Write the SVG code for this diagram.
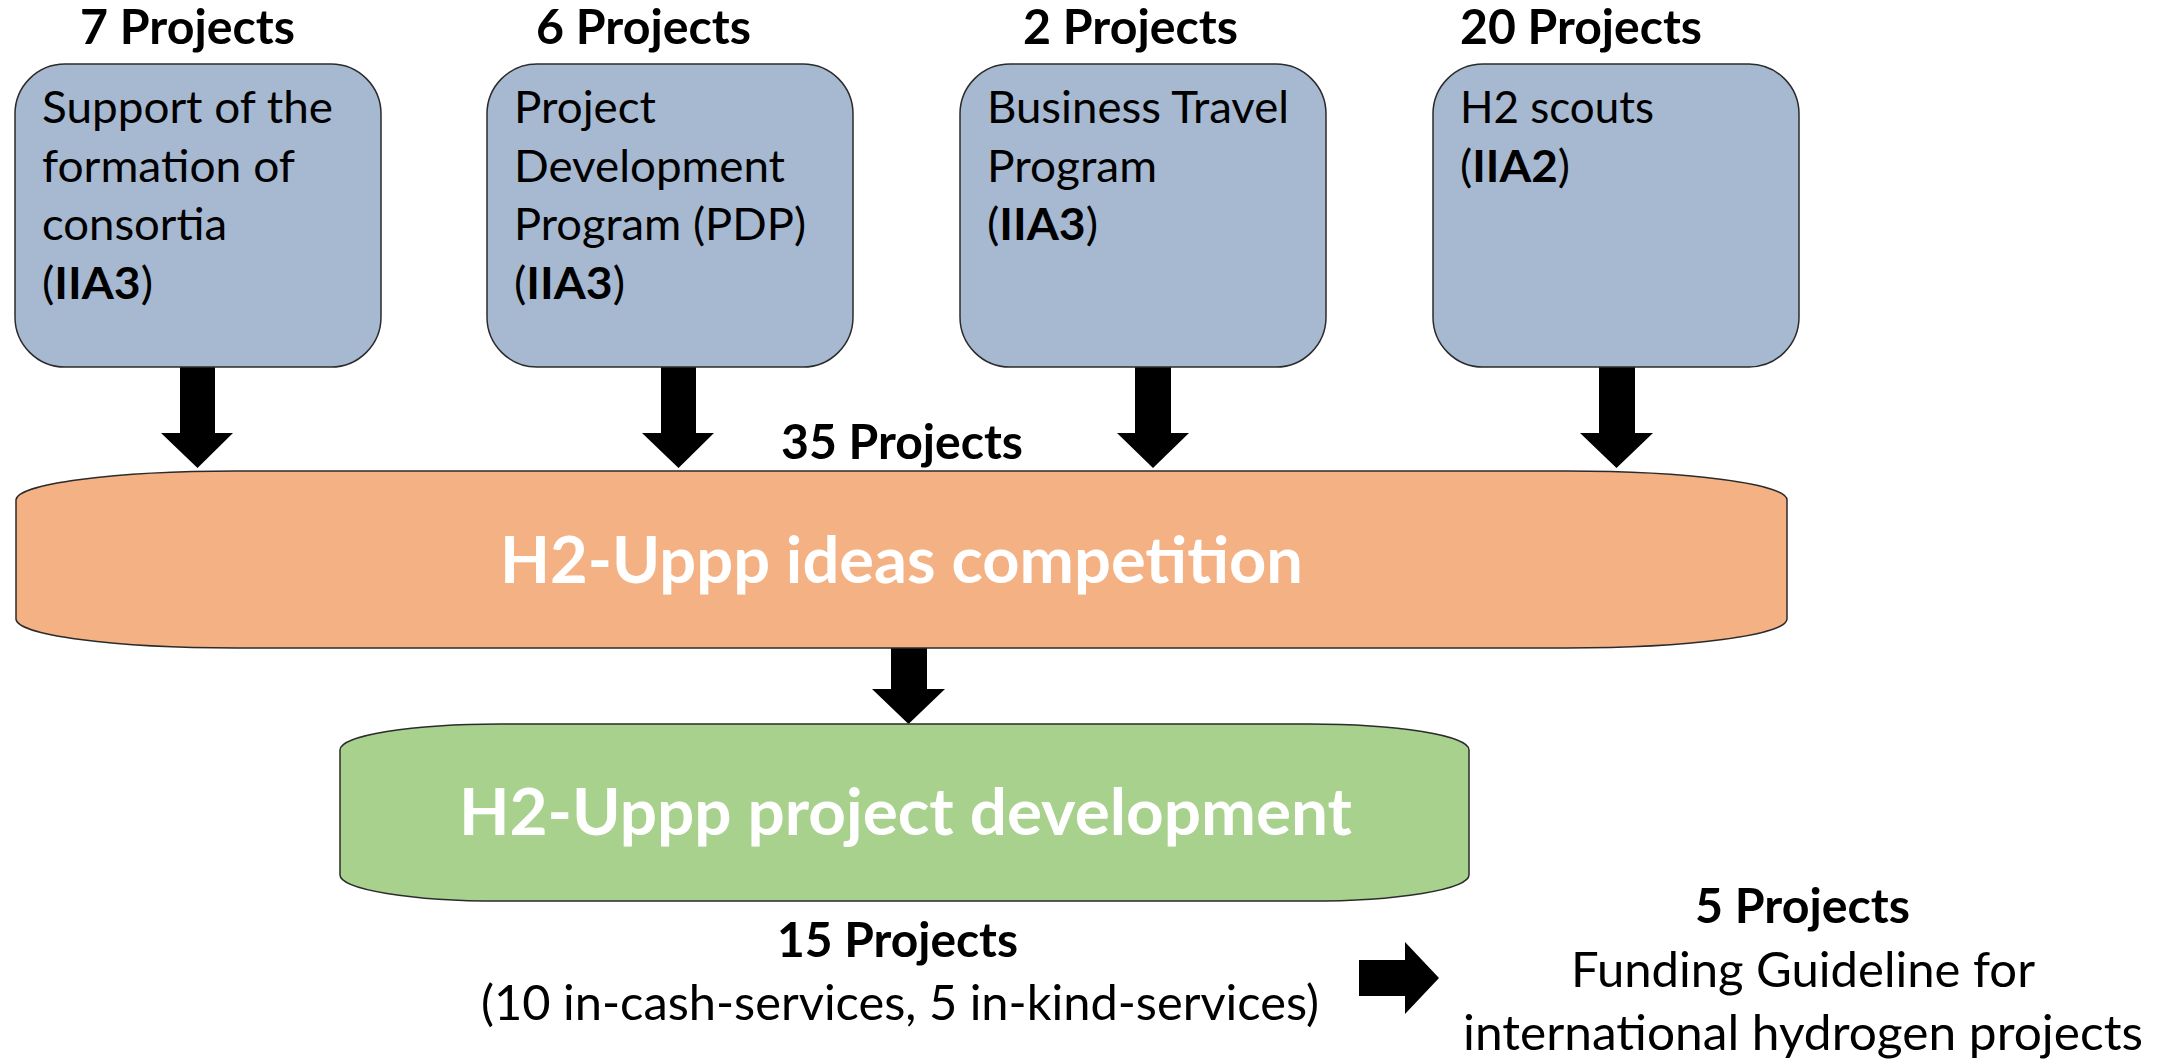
<svg xmlns="http://www.w3.org/2000/svg" width="2174" height="1064" viewBox="0 0 2174 1064">
<style>
  text { font-family: Lato, "Open Sans", "Liberation Sans", sans-serif; fill: #000; }
  .lbl { font-size: 48.5px; font-weight: bold; }
  .body { font-size: 44px; }
  .b { font-weight: bold; }
  .big { font-size: 65px; font-weight: bold; fill: #fff; }
  .bot { font-size: 48.5px; }
  .box { fill: #A6B9D0; stroke: #2b2b2b; stroke-width: 1.5; }
  .arr { fill: #000; stroke: none; }
</style>
<rect width="2174" height="1064" fill="#fff"/>

<g id="connectors">
  <path class="arr" d="M180,367 H215 V433 H233 L197.5,468 L161,433 H180 Z"/>
  <path class="arr" d="M661,367 H696 V433 H714 L678.5,468 L642,433 H661 Z"/>
  <path class="arr" d="M1135,367 H1171 V433 H1189 L1153,468 L1117,433 H1135 Z"/>
  <path class="arr" d="M1599,367 H1635 V433 H1653 L1616.5,468 L1580,433 H1599 Z"/>
  <path class="arr" d="M891,648 H927 V689 H945 L908.5,724 L872,689 H891 Z"/>
  <path class="arr" d="M1359,960 H1405 V942 L1439,978 L1405,1014 V996 H1359 Z"/>
</g>

<g id="node-consortia">
  <text class="lbl" x="80" y="44" textLength="215" lengthAdjust="spacingAndGlyphs">7 Projects</text>
  <rect class="box" x="15" y="64" width="366" height="303" rx="50" ry="50"/>
  <text class="body" x="42" y="123" textLength="291" lengthAdjust="spacingAndGlyphs">Support of the</text>
  <text class="body" x="42" y="181.5" textLength="253" lengthAdjust="spacingAndGlyphs">formation of</text>
  <text class="body" x="42" y="240" textLength="185" lengthAdjust="spacingAndGlyphs">consortia</text>
  <text class="body" x="42" y="298.5" textLength="111" lengthAdjust="spacingAndGlyphs">(<tspan class="b">IIA3</tspan>)</text>
</g>

<g id="node-pdp">
  <text class="lbl" x="536" y="44" textLength="215" lengthAdjust="spacingAndGlyphs">6 Projects</text>
  <rect class="box" x="487" y="64" width="366" height="303" rx="50" ry="50"/>
  <text class="body" x="514" y="123" textLength="142" lengthAdjust="spacingAndGlyphs">Project</text>
  <text class="body" x="514" y="181.5" textLength="271" lengthAdjust="spacingAndGlyphs">Development</text>
  <text class="body" x="514" y="240" textLength="292" lengthAdjust="spacingAndGlyphs">Program (PDP)</text>
  <text class="body" x="514" y="298.5" textLength="111" lengthAdjust="spacingAndGlyphs">(<tspan class="b">IIA3</tspan>)</text>
</g>

<g id="node-travel">
  <text class="lbl" x="1023" y="44" textLength="215" lengthAdjust="spacingAndGlyphs">2 Projects</text>
  <rect class="box" x="960" y="64" width="366" height="303" rx="50" ry="50"/>
  <text class="body" x="987" y="123" textLength="302" lengthAdjust="spacingAndGlyphs">Business Travel</text>
  <text class="body" x="987" y="181.5" textLength="170" lengthAdjust="spacingAndGlyphs">Program</text>
  <text class="body" x="987" y="240" textLength="111" lengthAdjust="spacingAndGlyphs">(<tspan class="b">IIA3</tspan>)</text>
</g>

<g id="node-scouts">
  <text class="lbl" x="1460" y="44" textLength="242" lengthAdjust="spacingAndGlyphs">20 Projects</text>
  <rect class="box" x="1433" y="64" width="366" height="303" rx="50" ry="50"/>
  <text class="body" x="1460" y="123" textLength="194" lengthAdjust="spacingAndGlyphs">H2 scouts</text>
  <text class="body" x="1460" y="181.5" textLength="110" lengthAdjust="spacingAndGlyphs">(<tspan class="b">IIA2</tspan>)</text>
</g>

<g id="node-ideas">
  <text class="lbl" x="781" y="459" textLength="242" lengthAdjust="spacingAndGlyphs">35 Projects</text>
  <rect x="16" y="471" width="1771" height="177" rx="220" ry="29" fill="#F4B183" stroke="#2b2b2b" stroke-width="1.5"/>
  <text class="big" x="500" y="583" textLength="803" lengthAdjust="spacingAndGlyphs">H2-Uppp ideas competition</text>
</g>

<g id="node-development">
  <rect x="340" y="724" width="1129" height="177" rx="160" ry="26" fill="#A9D18E" stroke="#2b2b2b" stroke-width="1.5"/>
  <text class="big" x="459" y="835" textLength="893" lengthAdjust="spacingAndGlyphs">H2-Uppp project development</text>
  <text class="lbl" x="777" y="957" textLength="241" lengthAdjust="spacingAndGlyphs">15 Projects</text>
  <text class="bot" x="481" y="1020" textLength="838" lengthAdjust="spacingAndGlyphs">(10 in-cash-services, 5 in-kind-services)</text>
</g>

<g id="node-funding">
  <text class="lbl" x="1695" y="923" textLength="215" lengthAdjust="spacingAndGlyphs">5 Projects</text>
  <text class="bot" x="1571" y="987" textLength="464" lengthAdjust="spacingAndGlyphs">Funding Guideline for</text>
  <text class="bot" x="1463" y="1050" textLength="680" lengthAdjust="spacingAndGlyphs">international hydrogen projects</text>
</g>
</svg>
